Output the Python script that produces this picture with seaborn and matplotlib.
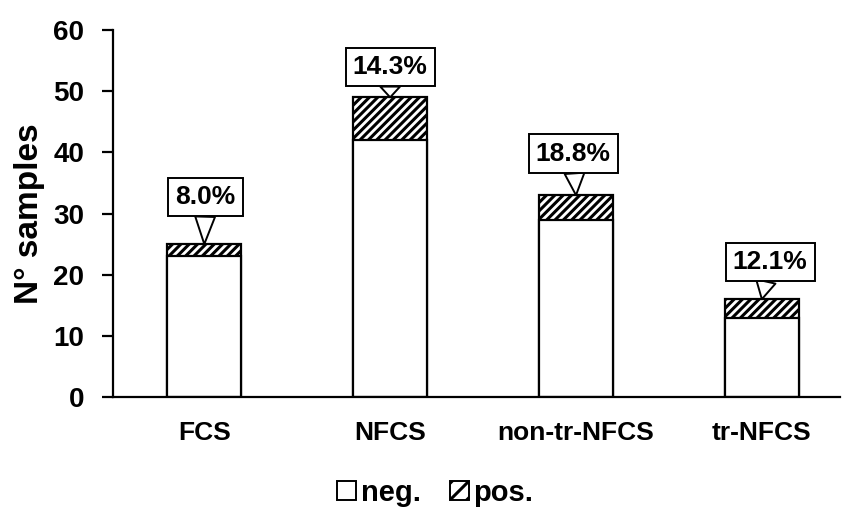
import pandas as pd
import matplotlib.pyplot as plt
import seaborn as sns
from matplotlib.patches import Patch

# data
categories = ['FCS', 'NFCS', 'non-tr-NFCS', 'tr-NFCS']
neg = [23, 42, 29, 13]
pos = [2, 7, 4, 3]
pct_labels = ['8.0%', '14.3%', '18.8%', '12.1%']

df = pd.DataFrame({'Category': categories, 'neg': neg, 'pos': pos})
df['total'] = df['neg'] + df['pos']

sns.set_style("ticks")
plt.rcParams['font.family'] = ['Liberation Sans', 'DejaVu Sans']
plt.rcParams['font.weight'] = 'bold'
plt.rcParams['text.color'] = 'black'
plt.rcParams['xtick.color'] = 'black'
plt.rcParams['ytick.color'] = 'black'
plt.rcParams['axes.labelcolor'] = 'black'
plt.rcParams['axes.edgecolor'] = 'black'
plt.rcParams['hatch.linewidth'] = 2.2

fig = plt.figure(figsize=(8.45, 5.09), dpi=100)
ax = fig.add_axes([0.134, 0.22, 0.86, 0.721])

# hatched total first, white neg part on top
sns.barplot(x='Category', y='total', data=df, color='white', edgecolor='black',
            linewidth=1.6, width=0.4, hatch='////', ax=ax, saturation=1)
sns.barplot(x='Category', y='neg', data=df, color='white', edgecolor='black',
            linewidth=1.6, width=0.4, ax=ax, saturation=1)

# callout labels
offsets = [(1, 34), (0, 22), (-2, 30), (6, 27)]
for i, (lab, tot) in enumerate(zip(pct_labels, df['total'])):
    ax.annotate(lab, xy=(i, tot), xytext=offsets[i], textcoords='offset points',
                ha='center', va='center', fontsize=19, fontweight='bold',
                bbox=dict(boxstyle='square,pad=0.27', fc='white', ec='black', lw=1.4),
                arrowprops=dict(arrowstyle='wedge,tail_width=0.75,shrink_factor=0.5',
                                fc='white', ec='black', lw=1.4,
                                shrinkA=0, shrinkB=0))

ax.set_ylim(0, 60)
ax.set_yticks(range(0, 61, 10))
ax.set_xlim(-0.49, 3.42)
ax.set_xlabel('')
ax.set_ylabel('N° samples', fontsize=24, fontweight='bold', labelpad=6)
ax.tick_params(axis='y', labelsize=20, length=8, width=1.6, direction='out', pad=13)
ax.tick_params(axis='x', labelsize=19, length=0, pad=17)
for lab in ax.get_xticklabels() + ax.get_yticklabels():
    lab.set_fontweight('bold')

sns.despine(ax=ax)
ax.spines['left'].set_linewidth(1.6)
ax.spines['bottom'].set_linewidth(1.6)

handles = [Patch(facecolor='white', edgecolor='black', lw=1.4, label='neg.'),
           Patch(facecolor='white', edgecolor='black', lw=1.4, hatch='//', label='pos.')]
fig.legend(handles=handles, loc='center', bbox_to_anchor=(0.515, 0.032), ncol=2,
           frameon=False, handlelength=0.65, handleheight=0.65,
           handletextpad=0.15, columnspacing=1.0, prop={'weight': 'bold', 'size': 21})

fig.savefig('out.png', dpi=100)
